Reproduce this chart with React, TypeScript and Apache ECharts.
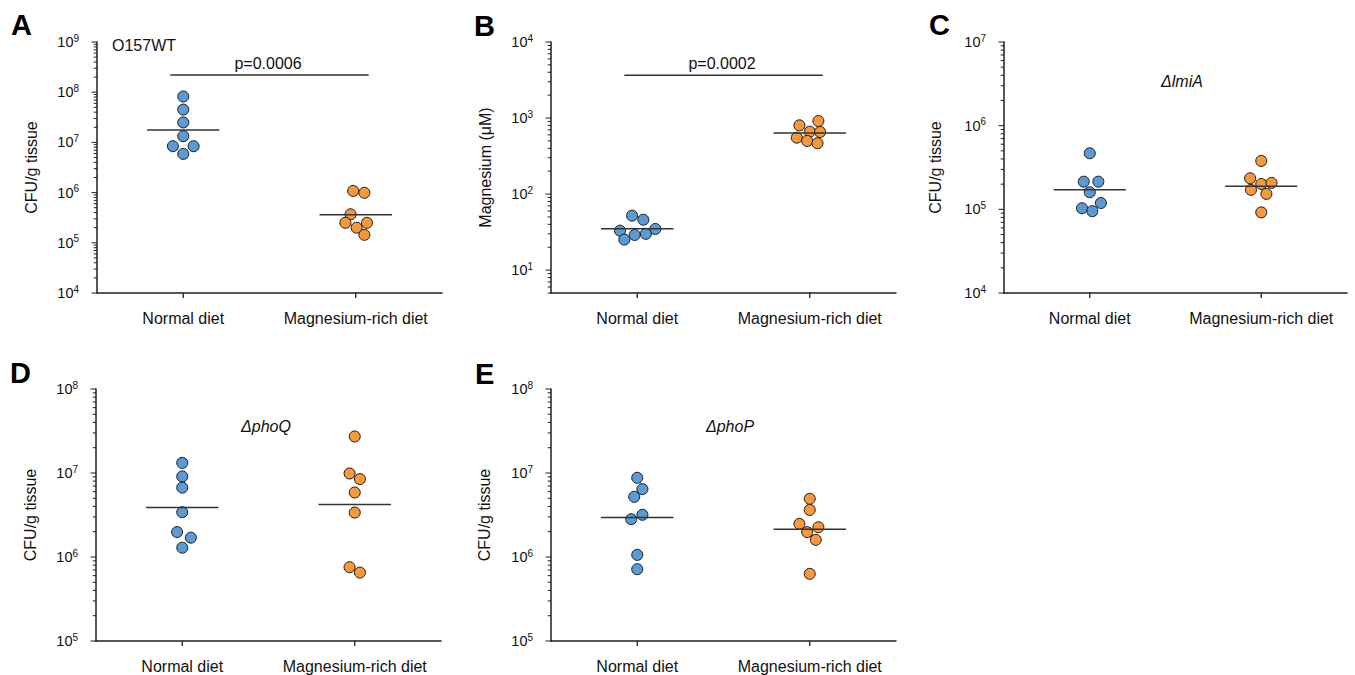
import React, { useEffect, useRef } from 'react';
import * as echarts from 'echarts';

// ---------- data ----------
const categories = ['Normal diet', 'Magnesium-rich diet'];
const categoryPositions = [1, 3];

// Panel A (O157WT, CFU/g tissue)
const aNormal = [8.2e7, 4.5e7, 2.5e7, 1.33e7, 8.4e6, 8.4e6, 5.9e6];
const aNormalJitter = [0, 0, 0, 0, -0.12, 0.12, 0];
const aRich = [1.08e6, 9.9e5, 3.7e5, 2.5e5, 2.5e5, 2.0e5, 1.44e5];
const aRichJitter = [-0.03, 0.1, -0.06, -0.12, 0.13, 0.01, 0.1];
const aMedians = [1.76e7, 3.6e5];

// Panel B (Magnesium, µM)
const bNormal = [52, 46, 33, 34.8, 29, 30, 25.2];
const bNormalJitter = [-0.06, 0.07, -0.2, 0.21, -0.03, 0.1, -0.15];
const bRich = [914, 802, 661, 655, 552, 500, 466];
const bRichJitter = [0.1, -0.12, 0, 0.12, -0.15, -0.03, 0.09];
const bMedians = [35, 636];

// Panel C (ΔlmiA)
const cNormal = [4.68e5, 2.14e5, 2.14e5, 1.6e5, 1.19e5, 1.03e5, 9.5e4];
const cNormalJitter = [0, -0.07, 0.1, 0, 0.13, -0.09, 0.03];
const cRich = [3.79e5, 2.35e5, 2.01e5, 2.07e5, 1.71e5, 1.53e5, 9.2e4];
const cRichJitter = [0, -0.13, 0, 0.12, -0.12, 0.06, 0];
const cMedians = [1.71e5, 1.89e5];

// Panel D (ΔphoQ)
const dNormal = [1.32e7, 9.1e6, 6.7e6, 3.42e6, 1.98e6, 1.7e6, 1.29e6];
const dNormalJitter = [0, 0, 0, 0, -0.06, 0.1, 0];
const dRich = [2.72e7, 9.87e6, 8.46e6, 5.86e6, 3.38e6, 7.56e5, 6.52e5];
const dRichJitter = [0, -0.06, 0.06, 0, 0, -0.06, 0.06];
const dMedians = [3.88e6, 4.21e6];

// Panel E (ΔphoP)
const eNormal = [8.77e6, 6.43e6, 5.2e6, 3.18e6, 2.82e6, 1.06e6, 7.16e5];
const eNormalJitter = [0, 0.06, -0.035, 0.06, -0.07, 0, 0];
const eRich = [4.93e6, 3.64e6, 2.48e6, 2.26e6, 1.98e6, 1.6e6, 6.3e5];
const eRichJitter = [0, 0, -0.12, 0.1, -0.03, 0.07, 0];
const eMedians = [2.95e6, 2.14e6];

const yTitles = ['CFU/g tissue', 'Magnesium (μM)', 'CFU/g tissue', 'CFU/g tissue', 'CFU/g tissue'];
const yRanges = [
  [1e4, 1e9],
  [5, 1e4],
  [1e4, 1e7],
  [1e5, 1e8],
  [1e5, 1e8],
];
const panelLetters = ['A', 'B', 'C', 'D', 'E'];
const strainNotes = ['O157WT', '', 'ΔlmiA', 'ΔphoQ', 'ΔphoP'];
const pValues = ['p=0.0006', 'p=0.0002', '', '', ''];
const sigBarLevels = [2.2e8, 3660, 0, 0, 0];
const sigBarSpan = [0.85, 3.15];
const medianHalfWidth = 0.42;

// ---------- styling / layout ----------
const FONT = '"Liberation Sans", Arial, Helvetica, sans-serif';
const BLUE = '#5B9BD5';
const ORANGE = '#F7983A';
const INK = '#1f1f1f';

const layouts = [
  { grid: { left: 97, top: 42, width: 345, height: 251 }, nameGap: 58, letter: [11, 25], note: [112, 45, 'left', false], p: [268, 63] },
  { grid: { left: 551, top: 42, width: 345, height: 251 }, nameGap: 58, letter: [474, 26], note: null, p: [722, 63] },
  { grid: { left: 1004, top: 42, width: 343, height: 251 }, nameGap: 61, letter: [929, 25], note: [1182, 81, 'center', true], p: null },
  { grid: { left: 96, top: 389, width: 345, height: 252 }, nameGap: 58, letter: [10, 373], note: [266, 426, 'center', true], p: null },
  { grid: { left: 551, top: 389, width: 345, height: 252 }, nameGap: 59, letter: [475, 374], note: [730, 426, 'center', true], p: null },
];

const groups = [
  [aNormal, aNormalJitter, aRich, aRichJitter, aMedians],
  [bNormal, bNormalJitter, bRich, bRichJitter, bMedians],
  [cNormal, cNormalJitter, cRich, cRichJitter, cMedians],
  [dNormal, dNormalJitter, dRich, dRichJitter, dMedians],
  [eNormal, eNormalJitter, eRich, eRichJitter, eMedians],
];

function logLabel(v: number) {
  const l = Math.log10(v);
  const e = Math.round(l);
  if (Math.abs(l - e) > 1e-6) return '';
  return `10{sup|${e}}`;
}

function yTickData(min: number, max: number) {
  const out: number[][] = [];
  const e0 = Math.floor(Math.log10(min));
  const e1 = Math.ceil(Math.log10(max));
  for (let e = e0; e <= e1; e++) {
    for (let k = 1; k <= 9; k++) {
      const v = k * Math.pow(10, e);
      if (v < min * 0.9999 || v > max * 1.0001) continue;
      out.push([v, k === 1 ? 5.5 : 3.3]);
    }
  }
  return out;
}

function buildOption() {
  const grid: any[] = [];
  const xAxis: any[] = [];
  const yAxis: any[] = [];
  const series: any[] = [];
  const graphic: any[] = [];

  layouts.forEach((lay, i) => {
    const [yMin, yMax] = yRanges[i];
    grid.push({ ...lay.grid, containLabel: false, outerBoundsMode: 'none' });
    xAxis.push({
      gridIndex: i,
      type: 'value',
      min: 0,
      max: 4,
      interval: 1,
      axisLine: { show: true, onZero: false, lineStyle: { color: INK, width: 1.5 } },
      axisTick: { show: false },
      splitLine: { show: false },
      axisLabel: {
        customValues: categoryPositions,
        formatter: (v: number) => {
          const idx = categoryPositions.indexOf(v);
          return idx >= 0 ? categories[idx] : '';
        },
        fontFamily: FONT,
        fontSize: 16,
        color: '#111',
        margin: 17,
      },
    });
    yAxis.push({
      gridIndex: i,
      type: 'log',
      logBase: 10,
      min: yMin,
      max: yMax,
      axisLine: { show: true, onZero: false, lineStyle: { color: INK, width: 1.5 } },
      axisTick: { show: false },
      minorTick: { show: false },
      splitLine: { show: false },
      axisLabel: {
        formatter: logLabel,
        fontFamily: FONT,
        fontSize: 14.5,
        lineHeight: 18,
        color: '#111',
        margin: 18,
        rich: {
          sup: { fontFamily: FONT, fontSize: 10, lineHeight: 10, verticalAlign: 'top', color: '#111' },
        },
      },
      name: yTitles[i],
      nameLocation: 'middle',
      nameRotate: 90,
      nameGap: lay.nameGap,
      nameTextStyle: { fontFamily: FONT, fontSize: 16, color: '#111' },
    });

    // y ticks (major + minor) through the axis scale
    series.push({
      type: 'custom',
      xAxisIndex: i,
      yAxisIndex: i,
      silent: true,
      z: 5,
      data: yTickData(yMin, yMax),
      renderItem: (_p: any, api: any) => {
        const v = api.value(0);
        const len = api.value(1);
        const pt = api.coord([0, v]);
        return {
          type: 'line',
          shape: { x1: pt[0] - len, y1: pt[1], x2: pt[0], y2: pt[1] },
          style: { stroke: INK, lineWidth: 1 },
        };
      },
    });
    // x ticks at category centres
    series.push({
      type: 'custom',
      xAxisIndex: i,
      yAxisIndex: i,
      silent: true,
      z: 5,
      data: categoryPositions.map((c) => [c, yMin]),
      renderItem: (_p: any, api: any) => {
        const pt = api.coord([api.value(0), yMin]);
        return {
          type: 'line',
          shape: { x1: pt[0], y1: pt[1], x2: pt[0], y2: pt[1] + 5 },
          style: { stroke: INK, lineWidth: 1.3 },
        };
      },
    });

    const [nVals, nJit, rVals, rJit, meds] = groups[i];
    const colors = [BLUE, ORANGE];
    [[nVals, nJit], [rVals, rJit]].forEach(([vals, jit], g) => {
      series.push({
        type: 'scatter',
        xAxisIndex: i,
        yAxisIndex: i,
        symbol: 'circle',
        symbolSize: 11,
        z: 3,
        itemStyle: { color: colors[g], borderColor: '#1a1a1a', borderWidth: 1, opacity: 1 },
        data: (vals as number[]).map((v, k) => [categoryPositions[g] + (jit as number[])[k], v]),
      });
      series.push({
        type: 'line',
        xAxisIndex: i,
        yAxisIndex: i,
        symbol: 'none',
        z: 4,
        lineStyle: { color: '#333', width: 1.5 },
        data: [
          [categoryPositions[g] - medianHalfWidth, (meds as number[])[g]],
          [categoryPositions[g] + medianHalfWidth, (meds as number[])[g]],
        ],
      });
    });

    if (pValues[i]) {
      series.push({
        type: 'line',
        xAxisIndex: i,
        yAxisIndex: i,
        symbol: 'none',
        lineStyle: { color: '#333', width: 1.5 },
        data: [
          [sigBarSpan[0], sigBarLevels[i]],
          [sigBarSpan[1], sigBarLevels[i]],
        ],
      });
    }

    graphic.push({
      type: 'text',
      x: lay.letter[0],
      y: lay.letter[1],
      style: {
        text: panelLetters[i],
        fontFamily: FONT,
        fontWeight: 'bold',
        fontSize: 29,
        fill: '#000',
        textAlign: 'left',
        textVerticalAlign: 'middle',
      },
    });
    if (lay.note && strainNotes[i]) {
      const [nx, ny, align, italic] = lay.note as any[];
      graphic.push({
        type: 'text',
        x: nx,
        y: ny,
        style: {
          text: strainNotes[i],
          fontFamily: FONT,
          fontSize: 16,
          fontStyle: italic ? 'italic' : 'normal',
          fill: '#111',
          textAlign: align,
          textVerticalAlign: 'middle',
        },
      });
    }
    if (lay.p && pValues[i]) {
      graphic.push({
        type: 'text',
        x: lay.p[0],
        y: lay.p[1],
        style: {
          text: pValues[i],
          fontFamily: FONT,
          fontSize: 16,
          fill: '#111',
          textAlign: 'center',
          textVerticalAlign: 'middle',
        },
      });
    }
  });

  return {
    animation: false,
    backgroundColor: '#ffffff',
    textStyle: { fontFamily: FONT },
    grid,
    xAxis,
    yAxis,
    series,
    graphic,
  };
}

export default function App() {
  const ref = useRef<HTMLDivElement>(null);
  useEffect(() => {
    if (!ref.current) return;
    const chart = echarts.init(ref.current, null, { renderer: 'svg' });
    chart.setOption(buildOption() as any);
    return () => chart.dispose();
  }, []);
  return (
    <div
      ref={ref}
      style={{ position: 'fixed', left: 0, top: 0, width: 1355, height: 675, background: '#fff' }}
    />
  );
}
